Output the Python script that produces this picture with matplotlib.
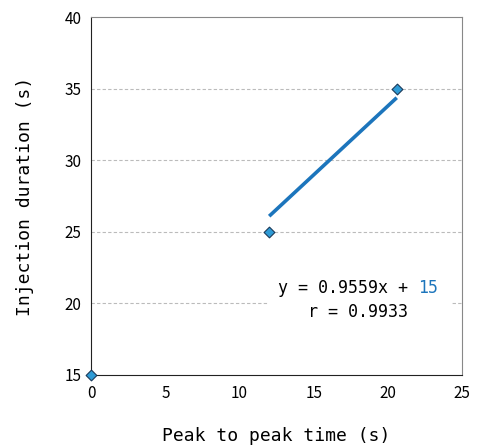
import matplotlib.pyplot as plt
from matplotlib.patches import Rectangle
import numpy as np

# Data
peak_time = [0, 12, 20.6]
injection = [15, 25, 35]
eq_text = 'y = 0.9559x + '
eq_const = '15'
r_text = 'r = 0.9933'

mono = ['DejaVu Sans Mono']
tickfont = ['Noto Sans CJK JP', 'DejaVu Sans']

fig = plt.figure(figsize=(4.8, 4.48), dpi=100)
ax = fig.add_axes([0.19, 0.163, 0.7725, 0.799])

# least-squares trendline over all points, drawn over the upper range
slope, icpt = np.polyfit(peak_time, injection, 1)
xs = np.array([peak_time[1], peak_time[2]])
ax.plot(xs, slope * xs + icpt, color='#1C75BC', lw=2.6, solid_capstyle='butt', zorder=3)

ax.scatter(peak_time, injection, marker='D', s=30, color='#2E9BD6',
           edgecolor='#1a3a5a', linewidth=0.8, zorder=4, clip_on=False)

ax.set_xlim(0, 25)
ax.set_ylim(15, 40)
ax.set_xticks(np.arange(0, 26, 5))
ax.set_yticks(np.arange(15, 41, 5))
for y in [20, 25, 30, 35]:
    ax.axhline(y, color='#bbbbbb', lw=0.8, ls=(0, (3, 2)), zorder=1)

ax.tick_params(length=0, labelsize=11)
ax.tick_params(axis='y', pad=7)
ax.tick_params(axis='x', pad=7)
for lab in ax.get_xticklabels() + ax.get_yticklabels():
    lab.set_family(tickfont)

ax.spines['left'].set_color('#222222')
ax.spines['bottom'].set_color('#222222')
ax.spines['top'].set_color('#888888')
ax.spines['right'].set_color('#888888')

ax.set_xlabel('Peak to peak time (s)', family=mono, fontsize=13, labelpad=18)
ax.set_ylabel('Injection duration (s)', family=mono, fontsize=13, labelpad=22)

# white label box hiding the gridline behind the equation
ax.add_patch(Rectangle((11.95, 18.6), 12.35, 3.3, facecolor='white',
                       edgecolor='none', zorder=2))
ax.text(22.03, 21.08, eq_text, family=mono, fontsize=12, ha='right', va='center', zorder=5)
ax.text(22.03, 21.08, eq_const, family=mono, fontsize=12, ha='left', va='center',
        color='#1C75BC', zorder=5)
ax.text(18.0, 19.4, r_text, family=mono, fontsize=12, ha='center', va='center', zorder=5)

fig.savefig('out.png', dpi=100)
